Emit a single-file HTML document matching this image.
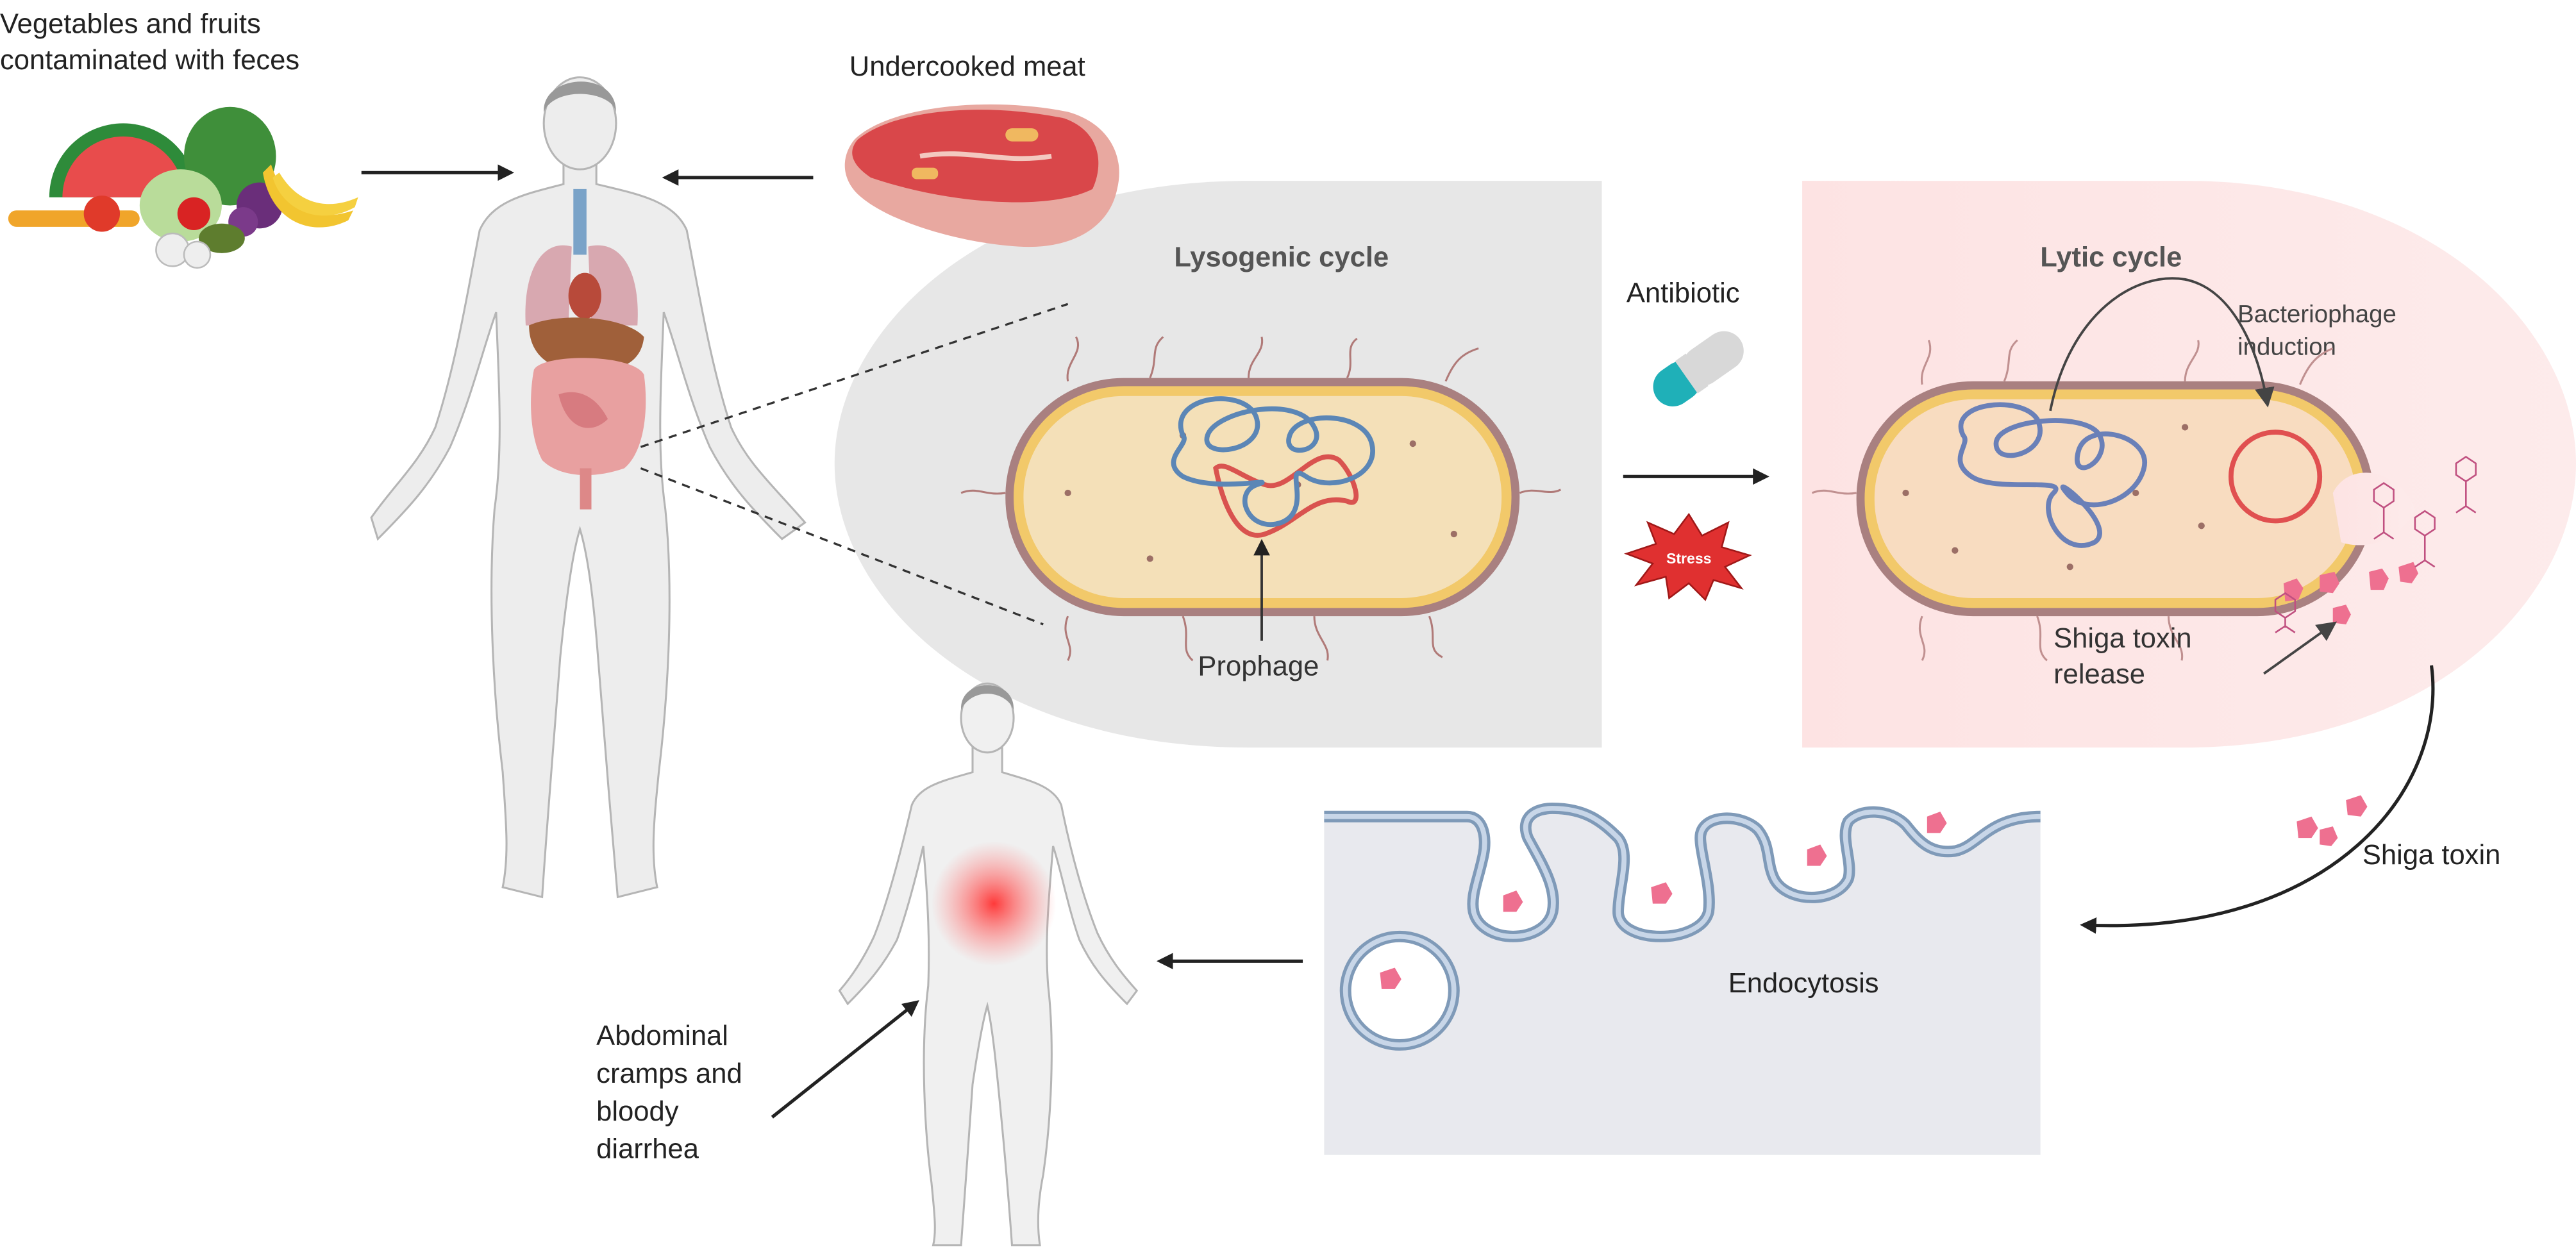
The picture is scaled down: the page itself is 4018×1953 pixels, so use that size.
<!DOCTYPE html>
<html><head><meta charset="utf-8"><style>
html,body{margin:0;padding:0;background:#fff;}
svg{display:block;}
text{font-family:"Liberation Sans",sans-serif;}
</style></head><body>
<svg width="4018" height="1953" viewBox="0 0 1568 762" xmlns="http://www.w3.org/2000/svg">
<defs>
<marker id="ah" markerWidth="10" markerHeight="10" refX="8" refY="5" orient="auto" markerUnits="userSpaceOnUse"><path d="M0,0 L10,5 L0,10 z" fill="#222"/></marker>
<marker id="ah2" markerWidth="12" markerHeight="12" refX="9" refY="6" orient="auto" markerUnits="userSpaceOnUse"><path d="M0,0 L12,6 L0,12 z" fill="#444"/></marker>
<radialGradient id="glow"><stop offset="0" stop-color="#ff3030" stop-opacity="0.95"/><stop offset="0.5" stop-color="#ff6060" stop-opacity="0.5"/><stop offset="1" stop-color="#ff8080" stop-opacity="0"/></radialGradient>
<linearGradient id="lyt" x1="0" x2="1"><stop offset="0" stop-color="#fde3e3"/><stop offset="1" stop-color="#fdebeb"/></linearGradient>
</defs>

<path d="M975,110 L760,110 C600,110 508,200 508,282 C508,365 600,455 760,455 L975,455 Z" fill="#e7e7e7"/>
<path d="M1097,110 L1330,110 C1480,110 1568,200 1568,282 C1568,365 1480,455 1330,455 L1097,455 Z" fill="url(#lyt)"/>

<text x="0" y="20" font-size="17" fill="#222">Vegetables and fruits</text>
<text x="0" y="42" font-size="17" fill="#222">contaminated with feces</text>
<text x="517" y="46" font-size="17" fill="#222">Undercooked meat</text>

<g>
<path d="M30,120 A45,45 0 0 1 120,120 Z" fill="#2e8b3a"/>
<path d="M38,120 A37,37 0 0 1 112,120 Z" fill="#e84c4c"/>
<ellipse cx="140" cy="95" rx="28" ry="30" fill="#3f8f3a"/>
<ellipse cx="110" cy="125" rx="25" ry="22" fill="#b9dc9a"/>
<rect x="5" y="128" width="80" height="10" rx="5" fill="#f0a52a"/>
<circle cx="62" cy="130" r="11" fill="#e03a2a"/>
<circle cx="118" cy="130" r="10" fill="#d92323"/>
<circle cx="158" cy="125" r="14" fill="#6a2e7a"/>
<circle cx="148" cy="135" r="9" fill="#7b3a8a"/>
<path d="M165,100 C175,130 195,135 215,128 L212,134 C190,145 165,135 160,105 Z" fill="#f2c530"/>
<path d="M170,105 C182,125 200,128 218,120 L216,126 C195,138 172,128 166,108 Z" fill="#f5d040"/>
<ellipse cx="135" cy="145" rx="14" ry="9" fill="#5e7d2e"/>
<circle cx="105" cy="152" r="10" fill="#eee" stroke="#bbb"/>
<circle cx="120" cy="155" r="8" fill="#eee" stroke="#bbb"/>
</g>

<path d="M520,85 C540,65 600,58 650,68 C675,75 685,95 680,115 C675,140 650,152 620,150 C585,148 540,135 522,118 C512,108 512,95 520,85 Z" fill="#e8a8a0"/>
<path d="M522,85 C545,66 600,62 648,72 C670,80 672,100 665,115 C640,128 580,125 530,108 C518,100 516,92 522,85 Z" fill="#d9474a"/>
<path d="M560,95 C590,90 610,100 640,95" stroke="#f3c9c0" stroke-width="3" fill="none"/>
<rect x="612" y="78" width="20" height="8" rx="4" fill="#f0b860"/>
<rect x="555" y="102" width="16" height="7" rx="3" fill="#f0b860"/>

<line x1="220" y1="105" x2="311" y2="105" stroke="#222" stroke-width="2" marker-end="url(#ah)"/>
<line x1="495" y1="108" x2="405" y2="108" stroke="#222" stroke-width="2" marker-end="url(#ah)"/>

<!-- big human -->
<g fill="#ededed" stroke="#b5b5b5" stroke-width="1.2">
<path d="M343,95 L343,112 C320,118 300,122 292,140 C285,175 278,220 265,260 C255,282 240,295 226,315 L230,328 C248,310 262,295 274,272 C287,242 294,212 302,190 C304,240 306,275 301,310 C297,360 300,420 306,470 C308,500 310,520 306,540 L330,546 C333,500 338,440 341,400 C345,360 349,335 353,322 C357,335 361,360 364,400 C367,440 372,500 376,546 L400,540 C396,520 398,500 401,470 C407,420 410,360 405,310 C400,275 402,240 404,190 C412,212 419,242 432,272 C444,295 458,310 476,328 L490,318 C470,295 455,282 445,260 C432,220 425,175 418,140 C410,122 388,118 363,112 L363,95 Z"/>
<ellipse cx="353" cy="75" rx="22" ry="28"/>
</g>
<path d="M331,68 C330,45 375,42 375,68 C372,55 338,52 331,68 Z" fill="#999"/>
<rect x="349" y="115" width="8" height="40" fill="#7aa3c8"/>
<path d="M348,150 C330,145 318,165 320,198 L346,198 Z" fill="#d8a8b0"/>
<path d="M358,150 C378,145 390,165 388,198 L360,198 Z" fill="#d8a8b0"/>
<ellipse cx="356" cy="180" rx="10" ry="14" fill="#b84a3a"/>
<path d="M322,198 C340,190 380,192 392,205 C390,225 370,228 345,225 C330,222 322,212 322,198 Z" fill="#a0603a"/>
<path d="M325,225 C330,215 385,215 392,228 C395,250 392,275 380,285 C360,292 340,290 330,280 C322,265 322,240 325,225 Z" fill="#e8a0a0"/>
<path d="M340,240 C355,235 365,245 370,255 C360,265 345,262 340,240 Z" fill="#d77b80"/>
<rect x="353" y="285" width="7" height="25" fill="#d88"/>

<line x1="390" y1="272" x2="650" y2="185" stroke="#333" stroke-width="1.3" stroke-dasharray="5,4"/>
<line x1="390" y1="285" x2="635" y2="380" stroke="#333" stroke-width="1.3" stroke-dasharray="5,4"/>

<text x="780" y="162" font-size="17" font-weight="bold" fill="#555" text-anchor="middle">Lysogenic cycle</text>
<g stroke="#b07a78" stroke-width="1.2" fill="none">
<path d="M650,232 C648,220 660,215 655,205"/><path d="M700,230 C705,218 700,212 708,205"/><path d="M760,230 C760,218 770,215 768,205"/><path d="M820,230 C825,220 818,212 826,206"/><path d="M880,232 C885,220 890,215 900,212"/>
<path d="M650,375 C645,388 655,392 650,402"/><path d="M720,375 C725,388 718,395 726,402"/><path d="M800,375 C800,388 810,392 808,402"/><path d="M870,375 C875,388 868,395 878,400"/>
<path d="M612,300 C600,302 595,296 585,300"/><path d="M925,300 C935,296 942,302 950,298"/>
</g>
<rect x="612" y="230" width="313" height="145" rx="72" fill="#a98080"/>
<rect x="617" y="235" width="303" height="135" rx="67" fill="#f2c96a"/>
<rect x="623" y="241" width="291" height="123" rx="61" fill="#f4e0b8"/>
<g fill="#9c6f66"><circle cx="650" cy="300" r="2"/><circle cx="700" cy="340" r="2"/><circle cx="860" cy="270" r="2"/><circle cx="885" cy="325" r="2"/><circle cx="720" cy="265" r="2"/><circle cx="790" cy="295" r="2"/></g>
<path d="M740,285 C745,310 755,330 770,325 C790,318 800,300 820,305 C830,310 825,290 815,280 C800,270 785,300 770,295 C755,290 745,280 740,285 Z" fill="none" stroke="#d9534f" stroke-width="3"/>
<path d="M720,265 C710,240 760,235 765,255 C770,275 730,280 735,265 C740,250 790,240 800,260 C808,275 780,280 785,265 C790,250 830,250 835,270 C840,290 810,300 795,290 C780,280 800,310 780,318 C760,325 750,300 765,295 C780,290 740,300 720,290 C705,280 725,270 720,265 Z" fill="none" stroke="#5b86b6" stroke-width="3"/>
<line x1="768" y1="390" x2="768" y2="330" stroke="#333" stroke-width="1.5" marker-end="url(#ah)"/>
<text x="766" y="411" font-size="17" fill="#333" text-anchor="middle">Prophage</text>

<text x="990" y="184" font-size="17" fill="#222">Antibiotic</text>
<g transform="rotate(-35 1033 225)">
<rect x="1003" y="213" width="30" height="24" rx="12" fill="#1fb0b8"/>
<rect x="1025" y="213" width="40" height="24" rx="12" fill="#d8d8d8"/>
<rect x="1025" y="213" width="8" height="24" fill="#d8d8d8"/>
</g>
<line x1="988" y1="290" x2="1075" y2="290" stroke="#222" stroke-width="2" marker-end="url(#ah)"/>
<path d="M1028,313 L1036,326 L1052,318 L1048,333 L1065,338 L1050,345 L1060,358 L1043,353 L1038,365 L1028,355 L1016,364 L1014,351 L996,356 L1006,343 L990,337 L1008,331 L1003,318 L1019,325 Z" fill="#e03030" stroke="#a01818" stroke-width="1"/>
<text x="1028" y="343" font-size="9" font-weight="bold" fill="#fff" text-anchor="middle">Stress</text>

<text x="1285" y="162" font-size="17" font-weight="bold" fill="#555" text-anchor="middle">Lytic cycle</text>
<text x="1362" y="196" font-size="15" fill="#444">Bacteriophage</text>
<text x="1362" y="216" font-size="15" fill="#444">induction</text>
<g stroke="#c09090" stroke-width="1.2" fill="none">
<path d="M1170,234 C1168,222 1178,218 1174,207"/><path d="M1220,232 C1225,220 1220,214 1228,207"/><path d="M1330,232 C1330,220 1340,216 1338,207"/><path d="M1400,234 C1405,222 1410,216 1420,212"/>
<path d="M1170,375 C1165,388 1175,392 1170,402"/><path d="M1240,375 C1245,388 1238,395 1246,402"/><path d="M1320,375 C1320,388 1330,392 1328,402"/>
<path d="M1130,300 C1118,302 1113,296 1103,300"/>
</g>
<rect x="1130" y="232" width="315" height="143" rx="71" fill="#a98080"/>
<rect x="1135" y="237" width="305" height="133" rx="66" fill="#f2c96a"/>
<rect x="1141" y="243" width="293" height="121" rx="60" fill="#f8dcc0"/>
<path d="M1420,300 C1430,280 1460,285 1470,310 C1460,330 1440,335 1425,330 Z" fill="url(#lyt)"/>
<g fill="#9c6f66"><circle cx="1160" cy="300" r="2"/><circle cx="1330" cy="260" r="2"/><circle cx="1340" cy="320" r="2"/><circle cx="1190" cy="335" r="2"/><circle cx="1300" cy="300" r="2"/><circle cx="1260" cy="345" r="2"/></g>
<path d="M1195,265 C1185,245 1230,240 1240,255 C1250,275 1215,285 1215,270 C1215,255 1270,250 1278,265 C1286,280 1260,295 1265,275 C1270,255 1310,265 1305,285 C1300,305 1270,315 1258,300 C1245,285 1290,320 1275,330 C1255,340 1240,310 1250,300 C1260,290 1215,300 1200,290 C1185,280 1200,270 1195,265 Z" fill="none" stroke="#6a80b8" stroke-width="3"/>
<circle cx="1385" cy="290" r="27" fill="none" stroke="#e05050" stroke-width="3"/>
<path d="M1248,250 C1260,190 1300,165 1330,170 C1360,176 1375,215 1380,245" fill="none" stroke="#444" stroke-width="1.5" marker-end="url(#ah2)"/>
<g fill="#ee7090">
<path d="M1390,355 l8,-3 l4,6 l-3,7 l-8,1 z"/><path d="M1412,350 l9,-2 l3,7 l-4,6 l-8,-1 z"/><path d="M1442,348 l8,-2 l4,6 l-3,7 l-8,0 z"/><path d="M1460,345 l9,-3 l3,7 l-4,6 l-7,-1 z"/><path d="M1420,370 l8,-2 l3,6 l-3,6 l-8,-1 z"/>
</g>
<g stroke="#c05080" stroke-width="1" fill="none">
<path d="M1445,298 l6,-4 l6,4 l0,7 l-6,4 l-6,-4 z M1451,309 v15 M1445,328 l6,-4 l6,4"/>
<path d="M1495,282 l6,-4 l6,4 l0,7 l-6,4 l-6,-4 z M1501,293 v15 M1495,312 l6,-4 l6,4"/>
<path d="M1470,315 l6,-4 l6,4 l0,7 l-6,4 l-6,-4 z M1476,326 v15 M1470,345 l6,-4 l6,4"/>
<path d="M1385,365 l6,-4 l6,4 l0,7 l-6,4 l-6,-4 z M1391,376 v6 M1385,385 l6,-4 l6,4"/>
</g>
<text x="1250" y="394" font-size="17" fill="#333">Shiga toxin</text>
<text x="1250" y="416" font-size="17" fill="#333">release</text>
<line x1="1378" y1="410" x2="1420" y2="380" stroke="#444" stroke-width="1.5" marker-end="url(#ah2)"/>

<path d="M1480,405 C1490,480 1420,570 1268,563" fill="none" stroke="#222" stroke-width="2" marker-end="url(#ah)"/>
<g fill="#ee7090"><path d="M1398,500 l9,-3 l4,7 l-4,6 l-8,0 z"/><path d="M1412,505 l8,-2 l3,7 l-4,5 l-7,-1 z"/><path d="M1428,487 l9,-3 l4,7 l-4,6 l-8,-1 z"/></g>
<text x="1438" y="526" font-size="17" fill="#222">Shiga toxin</text>

<path d="M806,497 L893,497 C903,497 905,510 903,520 C900,535 895,545 897,555 C902,575 940,575 945,555 C948,540 938,525 930,510 C925,497 935,492 945,492 C965,492 975,500 985,510 C993,520 985,540 985,555 C985,575 1035,575 1040,555 C1042,540 1035,520 1035,510 C1035,495 1060,495 1070,505 C1078,515 1075,525 1080,535 C1088,550 1118,550 1125,535 C1128,525 1120,510 1125,500 C1132,492 1150,492 1160,502 C1168,512 1175,520 1190,518 C1205,515 1210,497 1242,497 L1242,703 L806,703 Z" fill="#e8e9ee"/>
<path d="M806,497 L893,497 C903,497 905,510 903,520 C900,535 895,545 897,555 C902,575 940,575 945,555 C948,540 938,525 930,510 C925,497 935,492 945,492 C965,492 975,500 985,510 C993,520 985,540 985,555 C985,575 1035,575 1040,555 C1042,540 1035,520 1035,510 C1035,495 1060,495 1070,505 C1078,515 1075,525 1080,535 C1088,550 1118,550 1125,535 C1128,525 1120,510 1125,500 C1132,492 1150,492 1160,502 C1168,512 1175,520 1190,518 C1205,515 1210,497 1242,497" fill="none" stroke="#7f9ab8" stroke-width="7"/>
<path d="M806,497 L893,497 C903,497 905,510 903,520 C900,535 895,545 897,555 C902,575 940,575 945,555 C948,540 938,525 930,510 C925,497 935,492 945,492 C965,492 975,500 985,510 C993,520 985,540 985,555 C985,575 1035,575 1040,555 C1042,540 1035,520 1035,510 C1035,495 1060,495 1070,505 C1078,515 1075,525 1080,535 C1088,550 1118,550 1125,535 C1128,525 1120,510 1125,500 C1132,492 1150,492 1160,502 C1168,512 1175,520 1190,518 C1205,515 1210,497 1242,497" fill="none" stroke="#c8d6e8" stroke-width="3"/>
<circle cx="852" cy="603" r="33" fill="#fff" stroke="#7f9ab8" stroke-width="7"/>
<circle cx="852" cy="603" r="33" fill="none" stroke="#c8d6e8" stroke-width="3"/>
<g fill="#ee7090"><path d="M840,592 l9,-3 l4,7 l-4,6 l-8,0 z"/><path d="M915,545 l8,-3 l4,7 l-4,6 l-8,0 z"/><path d="M1005,540 l9,-3 l4,7 l-4,6 l-8,0 z"/><path d="M1100,517 l8,-3 l4,7 l-4,6 l-8,0 z"/><path d="M1173,497 l8,-3 l4,7 l-4,6 l-8,0 z"/></g>
<text x="1052" y="604" font-size="17" fill="#222">Endocytosis</text>
<line x1="793" y1="585" x2="706" y2="585" stroke="#222" stroke-width="2" marker-end="url(#ah)"/>

<!-- small human -->
<g fill="#f0f0f0" stroke="#b5b5b5" stroke-width="1.2">
<path d="M592,455 L592,470 C575,475 560,478 555,490 C548,520 540,550 532,570 C525,585 518,595 511,603 L516,611 C530,597 538,587 546,572 C553,552 558,532 562,515 C565,550 566,575 565,600 C560,640 563,690 567,720 C569,740 570,750 568,758 L585,758 C587,730 590,690 592,660 C595,640 598,622 601,612 C604,625 606,645 608,665 C611,695 614,730 616,758 L633,758 C631,745 632,730 635,715 C640,680 642,635 638,600 C636,575 638,550 641,515 C646,530 650,552 657,572 C664,587 672,597 686,611 L692,603 C683,593 675,583 668,568 C660,548 652,520 646,490 C641,478 626,475 610,470 L610,455 Z"/>
<ellipse cx="601" cy="437" rx="16" ry="21"/>
</g>
<path d="M585,432 C584,412 618,412 617,432 C612,420 592,418 585,432 Z" fill="#999"/>
<circle cx="605" cy="550" r="38" fill="url(#glow)"/>

<text x="363" y="636" font-size="17" fill="#222">Abdominal</text>
<text x="363" y="659" font-size="17" fill="#222">cramps and</text>
<text x="363" y="682" font-size="17" fill="#222">bloody</text>
<text x="363" y="705" font-size="17" fill="#222">diarrhea</text>
<line x1="470" y1="680" x2="558" y2="610" stroke="#222" stroke-width="2" marker-end="url(#ah)"/>
</svg>
</body></html>
